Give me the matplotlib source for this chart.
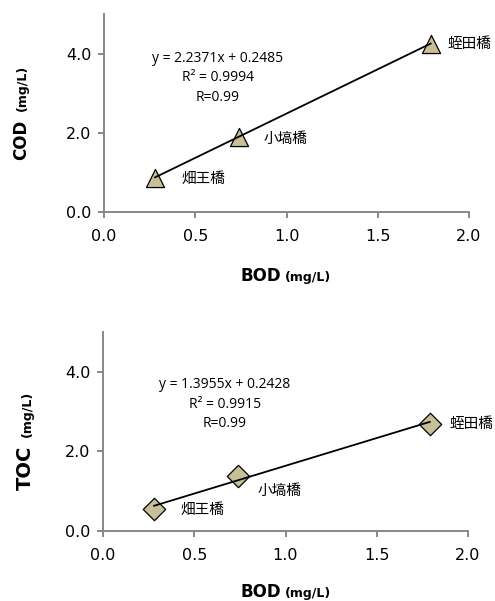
import matplotlib
matplotlib.use("Agg")
import matplotlib.pyplot as plt
import numpy as np

W, H = 495, 601

# data
sites = ["畑王橋", "小塙橋", "蛭田橋"]
bod = [0.28, 0.74, 1.79]
cod = [0.87, 1.90, 4.25]
toc = [0.55, 1.38, 2.70]

cod_eq = ["y = 2.2371x + 0.2485", "R² = 0.9994", "R=0.99"]
toc_eq = ["y = 1.3955x + 0.2428", "R² = 0.9915", "R=0.99"]
cod_fit = (2.2371, 0.2485)
toc_fit = (1.3955, 0.2428)

x_ticks = [0.0, 0.5, 1.0, 1.5, 2.0]
y_ticks = [0.0, 2.0, 4.0]

MARKER_FC = "#c8bf98"
SPINE = "#878787"
CJK = ["Noto Sans CJK JP", "DejaVu Sans"]


def fx(px):
    return px / W


def fy(py):
    return 1 - py / H


def style_axes(ax):
    ax.set_xlim(0, 2.0)
    ax.set_ylim(0, 5.0)
    ax.set_xticks(x_ticks)
    ax.set_xticklabels([f"{v:.1f}" for v in x_ticks])
    ax.set_yticks(y_ticks)
    ax.set_yticklabels([f"{v:.1f}" for v in y_ticks])
    for s in ["top", "right"]:
        ax.spines[s].set_visible(False)
    for s in ["left", "bottom"]:
        ax.spines[s].set_color(SPINE)
        ax.spines[s].set_linewidth(1.4)
    ax.tick_params(colors=SPINE, width=1.4, length=4, labelsize=11.5,
                   labelcolor="black", pad=5)
    ax.tick_params(axis="x", pad=8)


def panel(ax, y, fit, eq, marker, msize, offsets, eq_xy):
    style_axes(ax)
    xs = np.array([min(bod), max(bod)])
    ax.plot(xs, fit[0] * xs + fit[1], color="black", lw=1.3, zorder=4)
    ax.scatter(bod, y, marker=marker, s=msize, c=MARKER_FC,
               edgecolors="black", linewidths=0.9, zorder=3, clip_on=False)
    for name, xv, yv, off in zip(sites, bod, y, offsets):
        ax.annotate(name, (xv, yv), xytext=off, textcoords="offset pixels",
                    ha="left", va="center", fontsize=10.5, family=CJK)
    ax.text(eq_xy[0], eq_xy[1], "\n".join(eq), transform=ax.transAxes,
            ha="center", va="center", fontsize=10, family="Open Sans",
            linespacing=1.4)


fig = plt.figure(figsize=(W / 100, H / 100), dpi=100)

ax1 = fig.add_axes([fx(104), fy(212), fx(469 - 104), (212 - 14) / H])
panel(ax1, cod, cod_fit, cod_eq, "^", 170,
      [(26, -1), (24, -2), (17, 0)], (0.312, 0.677))

ax2 = fig.add_axes([fx(103), fy(531), fx(468 - 103), (531 - 332) / H])
panel(ax2, toc, toc_fit, toc_eq, "D", 130,
      [(26, -1), (19, -15), (20, 0)], (0.334, 0.638))


# axis titles
def ylabel(main, size, x, y0, gap):
    fig.text(fx(x), fy(y0), main, rotation=90, rotation_mode="anchor",
             ha="left", va="baseline", fontsize=size, weight="bold")
    fig.text(fx(x), fy(y0 - gap), "(mg/L)", rotation=90, rotation_mode="anchor",
             ha="left", va="baseline", fontsize=9, weight="bold")


def xlabel(y):
    fig.text(fx(281), fy(y), "BOD", ha="right", va="baseline",
             fontsize=12, weight="bold")
    fig.text(fx(285), fy(y), "(mg/L)", ha="left", va="baseline",
             fontsize=9, weight="bold")


ylabel("COD", 12, 26, 160, 49)
ylabel("TOC", 14, 31, 490, 53)
xlabel(281)
xlabel(597)

fig.savefig("out.png", dpi=100)
